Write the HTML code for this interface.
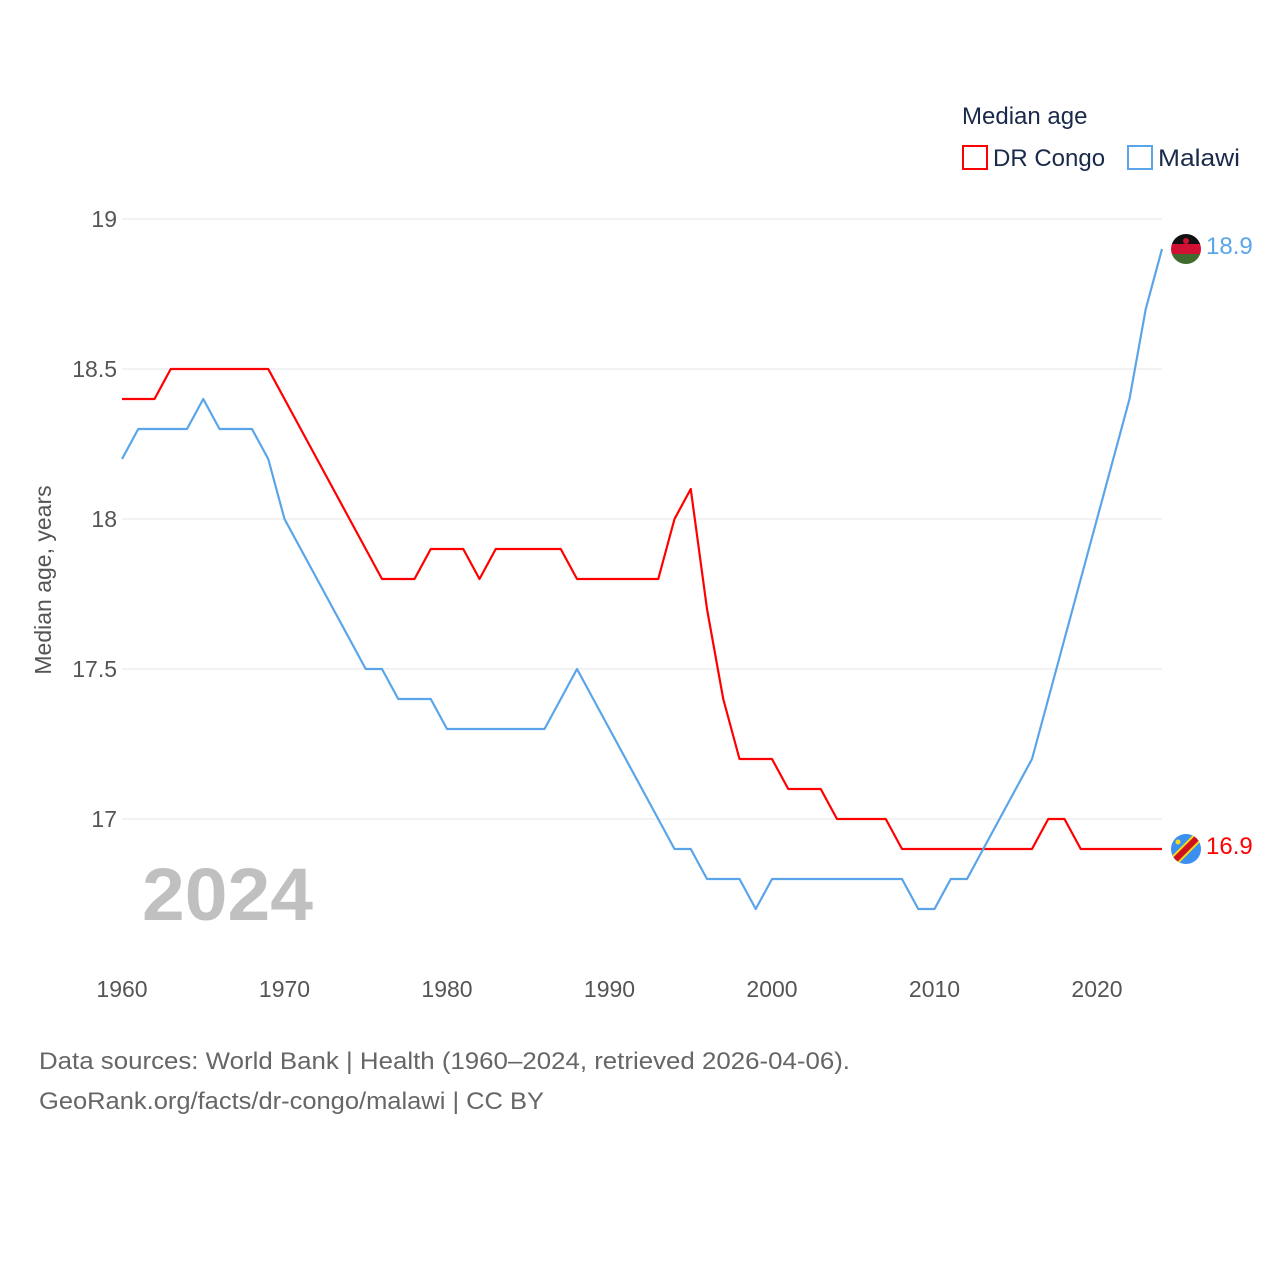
<!DOCTYPE html>
<html><head><meta charset="utf-8">
<style>
html,body{margin:0;padding:0;background:#fff;}
body{width:1280px;height:1280px;overflow:hidden;font-family:"Liberation Sans",sans-serif;}
svg text{font-family:"Liberation Sans",sans-serif;}
</style></head>
<body>
<svg id="chart" width="1280" height="1280" xmlns="http://www.w3.org/2000/svg">
  <g id="grid"></g>
  <g id="yticks"></g>
  <g id="xticks"></g>
  <text x="51" y="580" transform="rotate(-90 51 580)" text-anchor="middle" font-size="23" fill="#555">Median age, years</text>
  <text x="142" y="920" font-size="74" font-weight="bold" fill="#c0c0c0" textLength="171" lengthAdjust="spacingAndGlyphs">2024</text>
  <g id="series"></g>
  <g>
    <text x="962" y="124" font-size="24" fill="#1a2a4a">Median age</text>
    <rect x="963" y="146" width="24" height="23" fill="none" stroke="#ff0000" stroke-width="2"/>
    <text x="993" y="166" font-size="24" fill="#1a2a4a">DR Congo</text>
    <rect x="1128" y="146" width="24" height="23" fill="none" stroke="#5aa5ea" stroke-width="2"/>
    <text x="1158" y="166" font-size="24" fill="#1a2a4a" textLength="82" lengthAdjust="spacingAndGlyphs">Malawi</text>
  </g>
  <text x="39" y="1069" font-size="24" fill="#666" textLength="811" lengthAdjust="spacingAndGlyphs">Data sources: World Bank | Health (1960–2024, retrieved 2026-04-06).</text>
  <text x="39" y="1109" font-size="24" fill="#666" textLength="505" lengthAdjust="spacingAndGlyphs">GeoRank.org/facts/dr-congo/malawi | CC BY</text>
</svg>
<script>
const years = [];
for (let y = 1960; y <= 2024; y++) years.push(y);
const drCongo = [18.4,18.4,18.4,18.5,18.5,18.5,18.5,18.5,18.5,18.5,
 18.4,18.3,18.2,18.1,18.0,17.9,17.8,17.8,17.8,17.9,
 17.9,17.9,17.8,17.9,17.9,17.9,17.9,17.9,17.8,17.8,
 17.8,17.8,17.8,17.8,18.0,18.1,17.7,17.4,17.2,17.2,
 17.2,17.1,17.1,17.1,17.0,17.0,17.0,17.0,16.9,16.9,
 16.9,16.9,16.9,16.9,16.9,16.9,16.9,17.0,17.0,16.9,
 16.9,16.9,16.9,16.9,16.9];
const malawi = [18.2,18.3,18.3,18.3,18.3,18.4,18.3,18.3,18.3,18.2,
 18.0,17.9,17.8,17.7,17.6,17.5,17.5,17.4,17.4,17.4,
 17.3,17.3,17.3,17.3,17.3,17.3,17.3,17.4,17.5,17.4,
 17.3,17.2,17.1,17.0,16.9,16.9,16.8,16.8,16.8,16.7,
 16.8,16.8,16.8,16.8,16.8,16.8,16.8,16.8,16.8,16.7,
 16.7,16.8,16.8,16.9,17.0,17.1,17.2,17.4,17.6,17.8,
 18.0,18.2,18.4,18.7,18.9];
const yTicks = [17, 17.5, 18, 18.5, 19];
const xTicks = [1960, 1970, 1980, 1990, 2000, 2010, 2020];

const NS = "http://www.w3.org/2000/svg";
const xs = yr => 122 + (yr - 1960) * 16.25;
const ys = v => 819 - (v - 17) * 300;
function mk(tag, attrs, parent) {
  const e = document.createElementNS(NS, tag);
  for (const k in attrs) e.setAttribute(k, attrs[k]);
  parent.appendChild(e); return e;
}
const grid = document.getElementById('grid');
const yt = document.getElementById('yticks');
yTicks.forEach(v => {
  const l = mk('line', {x1:122, x2:1162, y1:ys(v), y2:ys(v), stroke:'#e6e6e6', 'stroke-width':1}, grid);
  
  
  const t = mk('text', {x:117, y:ys(v)+8, 'text-anchor':'end', 'font-size':23, fill:'#555'}, yt);
  t.textContent = String(v);
  
  
});
const xt = document.getElementById('xticks');
xTicks.forEach(v => {
  const t = mk('text', {x:xs(v), y:997, 'text-anchor':'middle', 'font-size':23, fill:'#555'}, xt);
  t.textContent = String(v);
  
  
});
const sg = document.getElementById('series');
function line(vals, color, name) {
  const d = vals.map((v, i) => (i ? 'L' : 'M') + xs(years[i]).toFixed(2) + ' ' + ys(v).toFixed(2)).join(' ');
  const p = mk('path', {d:d, fill:'none', stroke:color, 'stroke-width':2.2, 'stroke-linejoin':'round'}, sg);
  
  
  const last = vals[vals.length - 1];
  const cx = xs(years[years.length - 1]) + 24, cy = ys(last);
  const lbl = mk('text', {x:cx+20, y:cy+5, 'font-size':24, fill:color}, sg);
  lbl.textContent = last.toFixed(1);
  
  
  return {cx, cy};
}
const dc = line(drCongo, '#ff0000', 'dr-congo');
const mw = line(malawi, '#5aa5ea', 'malawi');

let g = mk('g', {}, sg);


const cpm = mk('clipPath', {id:'cm'}, g);
mk('circle', {cx:mw.cx, cy:mw.cy, r:15}, cpm);
const gm = mk('g', {'clip-path':'url(#cm)'}, g);
mk('rect', {x:mw.cx-15, y:mw.cy-15, width:30, height:10, fill:'#111'}, gm);
mk('rect', {x:mw.cx-15, y:mw.cy-5, width:30, height:10, fill:'#d21034'}, gm);
mk('rect', {x:mw.cx-15, y:mw.cy+5, width:30, height:10, fill:'#3f6b2f'}, gm);
mk('circle', {cx:mw.cx, cy:mw.cy-8, r:3, fill:'#d21034'}, gm);

let g2 = mk('g', {}, sg);


const cp = mk('clipPath', {id:'cd'}, g2);
mk('circle', {cx:dc.cx, cy:dc.cy, r:15}, cp);
const gd = mk('g', {'clip-path':'url(#cd)'}, g2);
mk('rect', {x:dc.cx-15, y:dc.cy-15, width:30, height:30, fill:'#3a8ff0'}, gd);
mk('line', {x1:dc.cx-18, y1:dc.cy+18, x2:dc.cx+18, y2:dc.cy-18, stroke:'#f7d618', 'stroke-width':10}, gd);
mk('line', {x1:dc.cx-18, y1:dc.cy+18, x2:dc.cx+18, y2:dc.cy-18, stroke:'#ce1021', 'stroke-width':6}, gd);
mk('circle', {cx:dc.cx-8, cy:dc.cy-7, r:2.5, fill:'#f7d618'}, gd);
</script>
</body></html>
